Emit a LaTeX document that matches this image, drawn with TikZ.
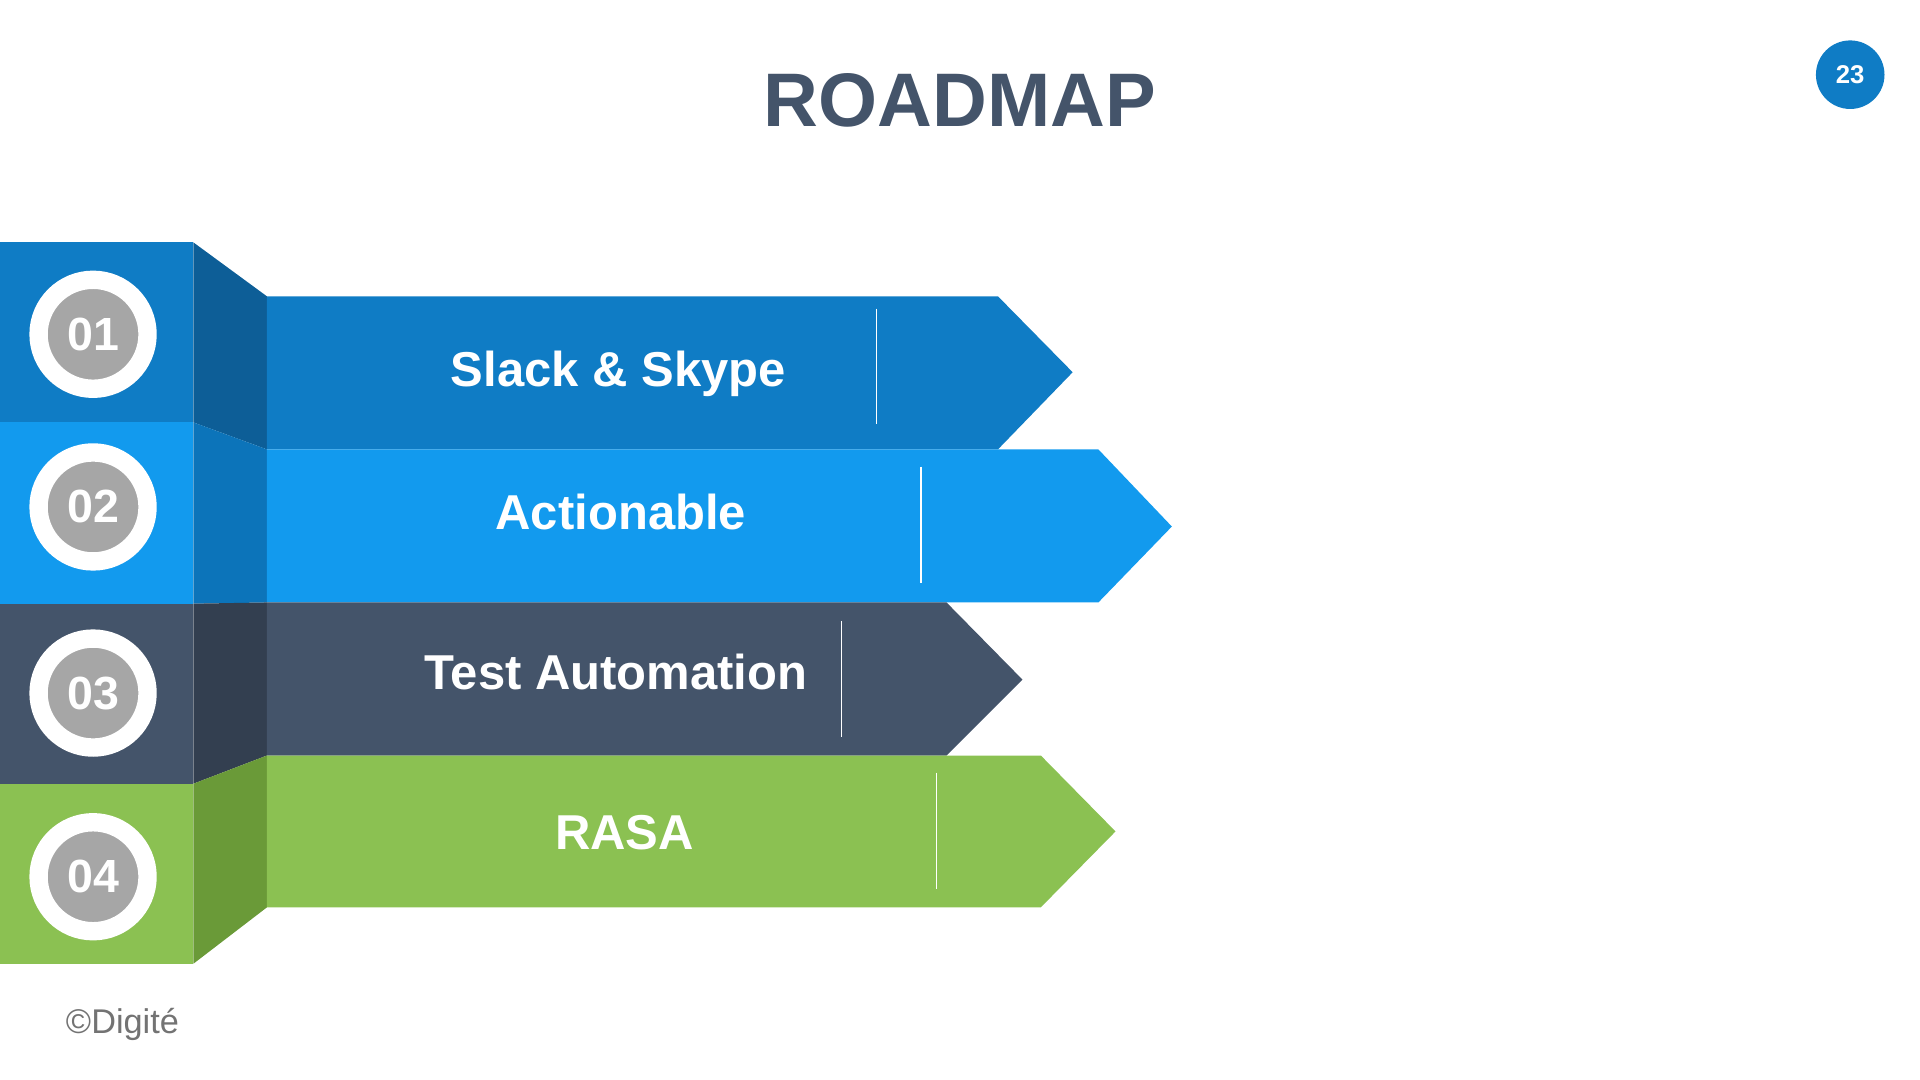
\documentclass[tikz,border=0pt]{standalone}
\usepackage{fontspec}
\setmainfont{Liberation Sans}
\definecolor{bA}{HTML}{0F7CC5}\definecolor{fA}{HTML}{0D5E97}
\definecolor{bB}{HTML}{129AEE}\definecolor{fB}{HTML}{0C74BA}
\definecolor{bC}{HTML}{44546A}\definecolor{fC}{HTML}{333F50}
\definecolor{bD}{HTML}{8BC152}\definecolor{fD}{HTML}{6A9A38}
\definecolor{gr}{HTML}{A6A6A6}
\begin{document}
\begin{tikzpicture}[x=0.5pt,y=-0.5pt,
  lbl/.style={text=white,font=\bfseries\fontsize{20}{24}\selectfont},
  num/.style={circle,fill=gr,draw=white,line width=7.5pt,minimum size=44.5pt,text=white,font=\bfseries\fontsize{19}{22}\selectfont,inner sep=0pt},
  sep/.style={white,line width=0.6pt}]
\useasboundingbox (0,0) rectangle (1568,882);
% left blocks
\fill[bA] (0,198) rectangle (158,345);
\fill[bB] (0,345) rectangle (158,493);
\fill[bC] (0,493) rectangle (158,640);
\fill[bD] (0,640) rectangle (158,787);
% folds
\fill[fA] (158,198)--(218,242)--(218,367)--(158,345)--cycle;
\fill[fB] (158,345)--(218,367)--(218,492)--(158,493)--cycle;
\fill[fC] (158,493)--(218,492)--(218,617)--(158,640)--cycle;
\fill[fD] (158,640)--(218,617)--(218,741)--(158,787)--cycle;
% arrows
\fill[bA] (218,242)--(815,242)--(876,304)--(815,367)--(218,367)--cycle;
\fill[bB] (218,367)--(897,367)--(957,430)--(897,492)--(218,492)--cycle;
\fill[bC] (218,492)--(773,492)--(835,555)--(773,617)--(218,617)--cycle;
\fill[bD] (218,617)--(850,617)--(911,679)--(850,741)--(218,741)--cycle;
\draw[sep] (716,252)--(716,346);
\draw[sep] (752,381)--(752,476);
\draw[sep] (687,507)--(687,602);
\draw[sep] (765,631)--(765,726);
\node[lbl] (t1) at (505,305) {Slack \& Skype};
\node[lbl] (t2) at (507,418) {Actionable};
\node[lbl] (t3) at (503,549) {Test Automation};
\node[lbl] (t4) at (510,680) {RASA};
\node[num] (n1) at (76,273) {01};
\node[num] (n2) at (76,414) {02};
\node[num] (n3) at (76,566) {03};
\node[num] (n4) at (76,716) {04};
\node[text=bC,font=\bfseries\fontsize{31}{36}\selectfont] (title) at (784,82) {ROADMAP};
\node[circle,fill=bA,minimum size=28pt,inner sep=0pt,text=white,font=\bfseries\fontsize{10.5}{12}\selectfont] (pg) at (1511,61) {23};
\node[text=gray!90!black,font=\fontsize{14}{16}\selectfont] (copy) at (100,837) {©Digité};
\end{tikzpicture}
\end{document}
